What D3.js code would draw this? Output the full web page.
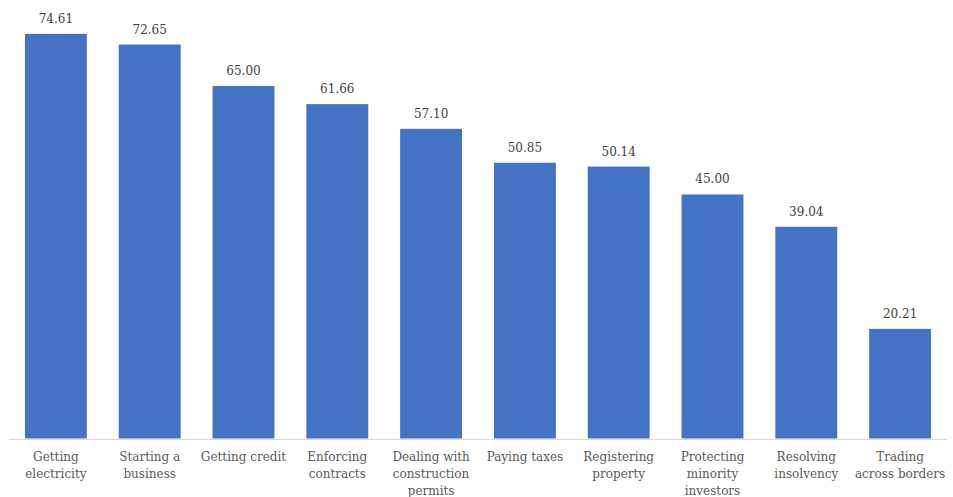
<!DOCTYPE html>
<html>
<head>
<meta charset="utf-8">
<script src="https://cdn.jsdelivr.net/npm/d3@7"></script>
<style>
  body { margin: 0; background: #fff; }
  text { font-family: "DejaVu Serif", Georgia, serif; fill: #595959; }
</style>
</head>
<body>
<svg id="chart" width="953" height="497"></svg>
<script>
// Data
const categories = [
  'Getting\nelectricity', 'Starting a\nbusiness', 'Getting credit', 'Enforcing\ncontracts',
  'Dealing with\nconstruction\npermits', 'Paying taxes', 'Registering\nproperty',
  'Protecting\nminority\ninvestors', 'Resolving\ninsolvency', 'Trading\nacross borders'
];
const values = [74.61, 72.65, 65.00, 61.66, 57.10, 50.85, 50.14, 45.00, 39.04, 20.21];

const svg = d3.select('#chart');
const baseY = 438.5;

const x = d3.scaleBand()
  .domain(categories)
  .range([9, 947])
  .paddingInner(0.34)
  .paddingOuter(0.17);

const y = d3.scaleLinear()
  .domain([0, 80])
  .range([baseY, baseY - 80 * 5.423]);

// bars
svg.append('g')
  .selectAll('rect')
  .data(values)
  .join('rect')
  .attr('x', (d, i) => x(categories[i]))
  .attr('y', d => y(d))
  .attr('width', x.bandwidth())
  .attr('height', d => y(0) - y(d))
  .attr('fill', '#4472C4');

// value labels
svg.append('g')
  .selectAll('text')
  .data(values)
  .join('text')
  .attr('x', (d, i) => x(categories[i]) + x.bandwidth() / 2)
  .attr('y', d => y(d) - 11)
  .attr('text-anchor', 'middle')
  .style('font-size', '12px')
  .style('fill', '#404040')
  .text(d => d.toFixed(2));

// axis line
svg.append('line')
  .attr('x1', 9).attr('x2', 947)
  .attr('y1', baseY + 1).attr('y2', baseY + 1)
  .attr('stroke', '#d9d9d9')
  .attr('stroke-width', 1);

// category labels
const labels = svg.append('g')
  .selectAll('text')
  .data(categories)
  .join('text')
  .attr('x', d => x(d) + x.bandwidth() / 2)
  .attr('y', baseY + 22)
  .attr('text-anchor', 'middle')
  .style('font-size', '12px');

labels.each(function(d) {
  const t = d3.select(this);
  d.split('\n').forEach((line, j) => {
    t.append('tspan')
      .attr('x', t.attr('x'))
      .attr('dy', j === 0 ? 0 : 17)
      .text(line);
  });
});
</script>
</body>
</html>
